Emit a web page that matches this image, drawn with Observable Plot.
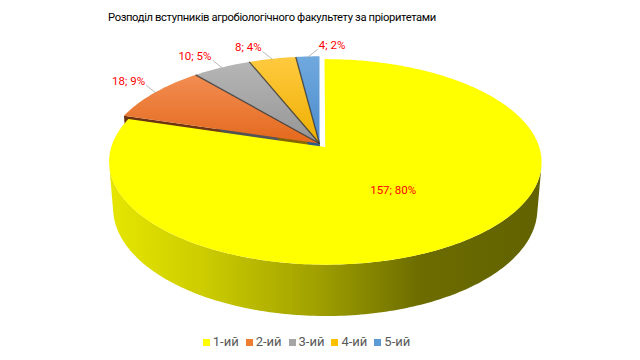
<!DOCTYPE html>
<html><head><meta charset="utf-8">
<script src="https://cdn.jsdelivr.net/npm/d3@7"></script>
<script src="https://cdn.jsdelivr.net/npm/@observablehq/plot@0.6"></script>
<style>
html,body{margin:0;padding:0;background:#fff;}
#wrap{position:relative;width:640px;height:360px;overflow:hidden;font-family:Roboto,"Noto Sans",sans-serif;}
#title{position:absolute;left:108px;top:11px;font-family:Roboto,sans-serif;font-size:11.2px;letter-spacing:-0.35px;line-height:14px;color:#000;white-space:nowrap;}
#plot{position:absolute;left:0;top:30px;}
#legend{position:absolute;left:0;top:334px;width:640px;box-sizing:border-box;padding-right:27px;display:flex;justify-content:center;font-size:13px;line-height:16px;color:#595959;}
.item{display:flex;align-items:center;margin:0 3.5px;}
.sw{width:7px;height:7px;margin-right:3px;}
</style></head>
<body><div id="wrap"><div id="title"></div><div id="plot"></div><div id="legend"></div></div>
<script>
// ---- data ----
const title = "Розподіл вступників агробіологічного факультету за пріоритетами";
const categories = ["1-ий", "2-ий", "3-ий", "4-ий", "5-ий"];
const values = [157, 18, 10, 8, 4];

// ---- styles ----
const topColors = [["#ffff00", "#ffff00"], ["#f28d52", "#e4691c"], ["#b6b6b6", "#959595"], ["#ffca40", "#eeaf00"], ["#70a9de", "#4b8bcc"]];
const legendColors = ["#ffff00", "#ed7d31", "#a5a5a5", "#ffc000", "#5b9bd5"];
const faceColors = ["#9a9a00", "#7a3b12", "#5a5a5a", "#8a6a00", "#2e5f8f"];
const explode = [0.045, 0, 0, 0, 0];

// ---- 3D projection (layout) ----
const tilt = 27.9 * Math.PI / 180, sT = Math.sin(tilt), cT = Math.cos(tilt);
const camDist = 7 * cT, focal = 1317, thick = 0.25;
const cx = 319, cy = 113;
const TAU = 2 * Math.PI;
function project(X, Y, Z) {
  const dy = Y + camDist * cT, dz = Z - camDist * sT;
  const depth = dy * cT - dz * sT;
  const up = dy * sT + dz * cT;
  return {x: cx + focal * X / depth, y: cy - focal * up / depth};
}
const total = d3.sum(values);
let acc = 0;
const slices = values.map((v, i) => {
  const a0 = acc / total * TAU; acc += v; const a1 = acc / total * TAU; const mid = (a0 + a1) / 2;
  return {i, v, a0, a1, mid, ox: explode[i] * Math.sin(mid), oy: explode[i] * Math.cos(mid),
          label: `${v}; ${Math.round(v / total * 100)}%`};
});
const pt = (s, t, r, Z) => project(s.ox + r * Math.sin(t), s.oy + r * Math.cos(t), Z);
function arc(s, t0, t1, r, Z) {
  const n = Math.max(2, Math.ceil(Math.abs(t1 - t0) / (Math.PI / 180)));
  return d3.range(n + 1).map(k => pt(s, t0 + (t1 - t0) * k / n, r, Z));
}
const topPoly = s => [pt(s, 0, 0, 0), ...arc(s, s.a0, s.a1, 1, 0)];
function wallPoly(s) {
  const A = s.ox, B = camDist * cT + s.oy, R = Math.hypot(A, B), phi = Math.atan2(A, B), g = Math.acos(-1 / R);
  const lo = Math.max(phi + g, s.a0), hi = Math.min(phi + TAU - g, s.a1);
  if (hi <= lo) return null;
  return [...arc(s, lo, hi, 1, 0), ...arc(s, hi, lo, 1, -thick)];
}
function faces(s) {
  const out = [];
  const Cx = -s.ox, Cy = -(camDist * cT + s.oy);
  const n0 = [-Math.cos(s.a0), Math.sin(s.a0)], n1 = [Math.cos(s.a1), -Math.sin(s.a1)];
  for (const [a, n] of [[s.a0, n0], [s.a1, n1]]) {
    if (Cx * n[0] + Cy * n[1] > 0.05) out.push([pt(s, a, 0, 0), pt(s, a, 1, 0), pt(s, a, 1, -thick), pt(s, a, 0, -thick)]);
  }
  return out;
}

// ---- marks ----
const marks = [];
const poly = (pts, fill) => Plot.line(pts, {x: "x", y: "y", fill, stroke: "none"});
const flat = slices.filter(s => explode[s.i] === 0), popped = slices.filter(s => explode[s.i] !== 0);
for (const s of flat) for (const f of faces(s)) marks.push(poly(f, `url(#face${s.i})`));
for (const s of flat) marks.push(poly(topPoly(s), `url(#top${s.i})`));
const seps = [];
flat.forEach((s, k) => { if (k > 0) seps.push({x1: pt(s, s.a0, 0, 0).x, y1: pt(s, s.a0, 0, 0).y, x2: pt(s, s.a0, 1, 0).x, y2: pt(s, s.a0, 1, 0).y}); });
marks.push(Plot.link(seps, {x1: "x1", y1: "y1", x2: "x2", y2: "y2", stroke: "#383838", strokeWidth: 1.3, strokeOpacity: 0.8}));
let wallExtent = [0, 640];
for (const s of popped) {
  for (const f of faces(s)) marks.push(poly(f, faceColors[s.i]));
  const w = wallPoly(s);
  if (w) { wallExtent = d3.extent(w, d => d.x); marks.push(poly(w, `url(#wall${s.i})`)); }
  marks.push(poly(topPoly(s), topColors[s.i][0]));
}

// labels
const ctx = document.createElement("canvas").getContext("2d");
ctx.font = "11.5px Roboto";
const labels = [], leaders = [];
slices.forEach((s, k) => {
  if (s.i === 0) { const p = pt(s, s.mid, 0.5, 0); labels.push({x: p.x, y: p.y, text: s.label}); return; }
  const side = (k === slices.length - 1) ? 1 : -1;
  const hw = ctx.measureText(s.label).width / 2;
  const m = pt(s, s.mid, 0.99, 0);
  const lx = m.x + side * (hw + 11), ly = m.y - 12;
  labels.push({x: lx, y: ly, text: s.label});
  leaders.push({x1: m.x, y1: m.y, x2: lx - side * (hw + 1), y2: ly + 4});
});
marks.push(Plot.link(leaders, {x1: "x1", y1: "y1", x2: "x2", y2: "y2", stroke: "#a6a6a6", strokeWidth: 0.8}));
marks.push(Plot.text(labels, {x: "x", y: "y", text: "text", fill: "#ff0000", fontSize: 11.5, fontFamily: "Roboto", textAnchor: "middle", lineAnchor: "middle"}));

const svg = Plot.plot({
  width: 640, height: 300, margin: 0,
  x: {domain: [0, 640], range: [0, 640], axis: null},
  y: {domain: [0, 300], range: [0, 300], axis: null},
  style: {background: "transparent", overflow: "visible"},
  marks
});
const defs = d3.select(svg).insert("defs", ":first-child");
slices.forEach(s => {
  const g = defs.append("linearGradient").attr("id", `top${s.i}`).attr("x1", 0).attr("y1", 0).attr("x2", 0).attr("y2", 1);
  g.append("stop").attr("offset", 0).attr("stop-color", topColors[s.i][0]);
  g.append("stop").attr("offset", 1).attr("stop-color", topColors[s.i][1]);
  const f = defs.append("linearGradient").attr("id", `face${s.i}`).attr("x1", 0).attr("y1", 0).attr("x2", 1).attr("y2", 0);
  f.append("stop").attr("offset", 0).attr("stop-color", d3.color(faceColors[s.i]).darker(0.4));
  f.append("stop").attr("offset", 1).attr("stop-color", faceColors[s.i]);
});
const wg = defs.append("linearGradient").attr("id", "wall0").attr("gradientUnits", "userSpaceOnUse")
  .attr("x1", wallExtent[0]).attr("y1", 0).attr("x2", wallExtent[1]).attr("y2", 0);
[[0, "#e6e600"], [0.22, "#cccc00"], [0.48, "#a0a000"], [0.72, "#6c6c00"], [1, "#626200"]].forEach(([o, c]) => wg.append("stop").attr("offset", o).attr("stop-color", c));
document.getElementById("plot").appendChild(svg);

document.getElementById("title").textContent = title;
const leg = d3.select("#legend");
categories.forEach((c, i) => {
  const it = leg.append("div").attr("class", "item");
  it.append("div").attr("class", "sw").style("background", legendColors[i]);
  it.append("span").text(c);
});
</script></body></html>
